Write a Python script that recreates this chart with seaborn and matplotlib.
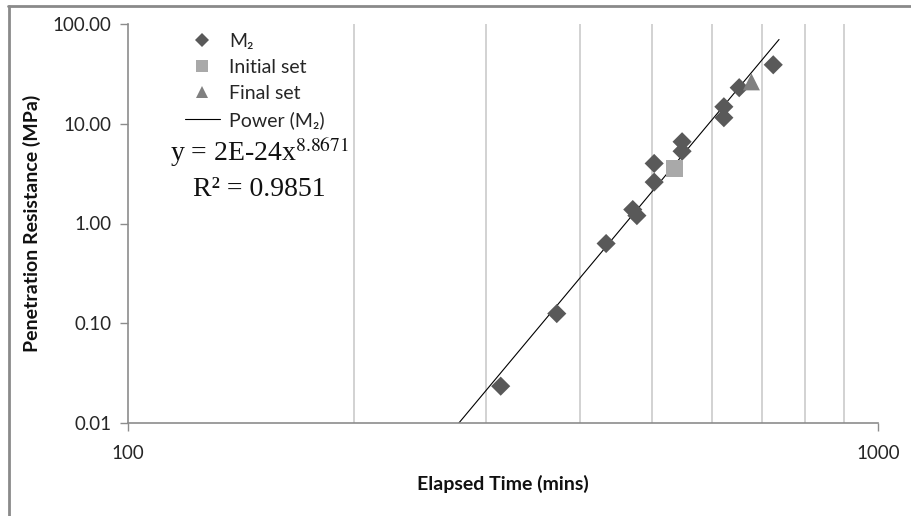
import numpy as np
import pandas as pd
import matplotlib
matplotlib.use("Agg")
import matplotlib.pyplot as plt
from matplotlib.lines import Line2D
from matplotlib.ticker import FixedLocator, FixedFormatter, NullFormatter
import seaborn as sns

# ---- data ----
m2_time = [314, 373, 434, 471, 477, 503, 503, 548, 548, 623, 623, 653, 725]
m2_res = [0.0234, 0.125, 0.63, 1.38, 1.2, 4.0, 2.6, 6.6, 5.3, 14.8, 11.5, 23.0, 39.0]
initial_time = [535]
initial_res = [3.55]
final_time = [678]
final_res = [26.3]
x_ticks = [100, 1000]
x_tick_labels = ["100", "1000"]
y_ticks = [0.01, 0.1, 1, 10, 100]
y_tick_labels = ["0.01", "0.10", "1.00", "10.00", "100.00"]
minor_grid = [200, 300, 400, 500, 600, 700, 800, 900]

sns.set_theme(style="white")
plt.rcParams["font.family"] = ["Lato", "DejaVu Sans"]

W, H = 912, 516
fig = plt.figure(figsize=(W / 100, H / 100), dpi=100)
ax = fig.add_axes([128 / W, 1 - 423 / H, (878 - 128) / W, (423 - 24) / H])

ax.set_xscale("log")
ax.set_yscale("log")
ax.set_xlim(100, 1000)
ax.set_ylim(0.01, 100)

# vertical gridlines
for g in minor_grid:
    ax.axvline(g, color="#c6c6c6", lw=1.1, zorder=0)

# power trendline fitted to M2
coef = np.polyfit(np.log10(m2_time), np.log10(m2_res), 1)
xt = np.linspace(250, 738, 200)
yt = 10 ** np.polyval(coef, np.log10(xt))
trend = pd.DataFrame({"x": xt, "y": yt})
sns.lineplot(data=trend, x="x", y="y", ax=ax, color="black", lw=0.8, zorder=2, legend=False)

df_m2 = pd.DataFrame({"t": m2_time, "r": m2_res})
df_i = pd.DataFrame({"t": initial_time, "r": initial_res})
df_f = pd.DataFrame({"t": final_time, "r": final_res})
sns.scatterplot(data=df_m2, x="t", y="r", ax=ax, marker="D", s=95, color="#595959",
                edgecolor="none", linewidth=0, zorder=3, legend=False)
sns.scatterplot(data=df_i, x="t", y="r", ax=ax, marker="s", s=150, color="#a9a9a9",
                edgecolor="none", linewidth=0, zorder=3, legend=False)
sns.scatterplot(data=df_f, x="t", y="r", ax=ax, marker="^", s=150, color="#808080",
                edgecolor="none", linewidth=0, zorder=3, legend=False)

# ticks
ax.xaxis.set_major_locator(FixedLocator(x_ticks))
ax.xaxis.set_major_formatter(FixedFormatter(x_tick_labels))
ax.xaxis.set_minor_locator(FixedLocator([]))
ax.xaxis.set_minor_formatter(NullFormatter())
ax.yaxis.set_major_locator(FixedLocator(y_ticks))
ax.yaxis.set_major_formatter(FixedFormatter(y_tick_labels))
ax.yaxis.set_minor_locator(FixedLocator([]))
ax.yaxis.set_minor_formatter(NullFormatter())
ax.tick_params(axis="both", which="major", direction="out", length=6, width=1,
               color="#8c8c8c", labelsize=13.5, labelcolor="#262626", bottom=True, left=True)
ax.tick_params(axis="x", pad=10)
ax.tick_params(axis="y", pad=6)

for s in ["top", "right"]:
    ax.spines[s].set_visible(False)
for s in ["left", "bottom"]:
    ax.spines[s].set_color("#8c8c8c")
    ax.spines[s].set_linewidth(1.2)

ax.set_xlabel("Elapsed Time (mins)", fontsize=14, fontweight="bold", color="#111111", labelpad=9)
ax.set_ylabel("Penetration Resistance (MPa)", fontsize=14, fontweight="bold", color="#111111", labelpad=8)

# legend
handles = [
    Line2D([], [], marker="D", ls="none", color="#595959", markersize=7, markeredgewidth=0),
    Line2D([], [], marker="s", ls="none", color="#a9a9a9", markersize=8.5, markeredgewidth=0),
    Line2D([], [], marker="^", ls="none", color="#808080", markersize=9, markeredgewidth=0),
    Line2D([], [], color="black", lw=0.8),
]
labels = ["M₂", "Initial set", "Final set", "Power (M₂)"]
leg = ax.legend(handles, labels, loc="upper left", bbox_to_anchor=(0.065, 0.997), frameon=False,
                fontsize=14, handlelength=1.8, handletextpad=0.5, labelspacing=0.47,
                borderaxespad=0)
for t in leg.get_texts():
    t.set_color("#262626")

# equation text
ax.text(259 / W, 1 - 152 / H, "y = 2E-24x$^{8.8671}$", transform=fig.transFigure, ha="center",
        va="center", fontsize=20, family="Liberation Serif", color="#111111",
        math_fontfamily="stix")
ax.text(259 / W, 1 - 189 / H, "R² = 0.9851", transform=fig.transFigure, ha="center",
        va="center", fontsize=20, family="Liberation Serif", color="#111111")

# outer frame (top & left edges)
fig.add_artist(Line2D([8 / W, 1], [1 - 6 / H, 1 - 6 / H], transform=fig.transFigure,
                      color="#8a8a8a", lw=2))
fig.add_artist(Line2D([9 / W, 9 / W], [0, 1 - 6 / H], transform=fig.transFigure,
                      color="#8a8a8a", lw=2))

fig.savefig("out.png", dpi=100)
